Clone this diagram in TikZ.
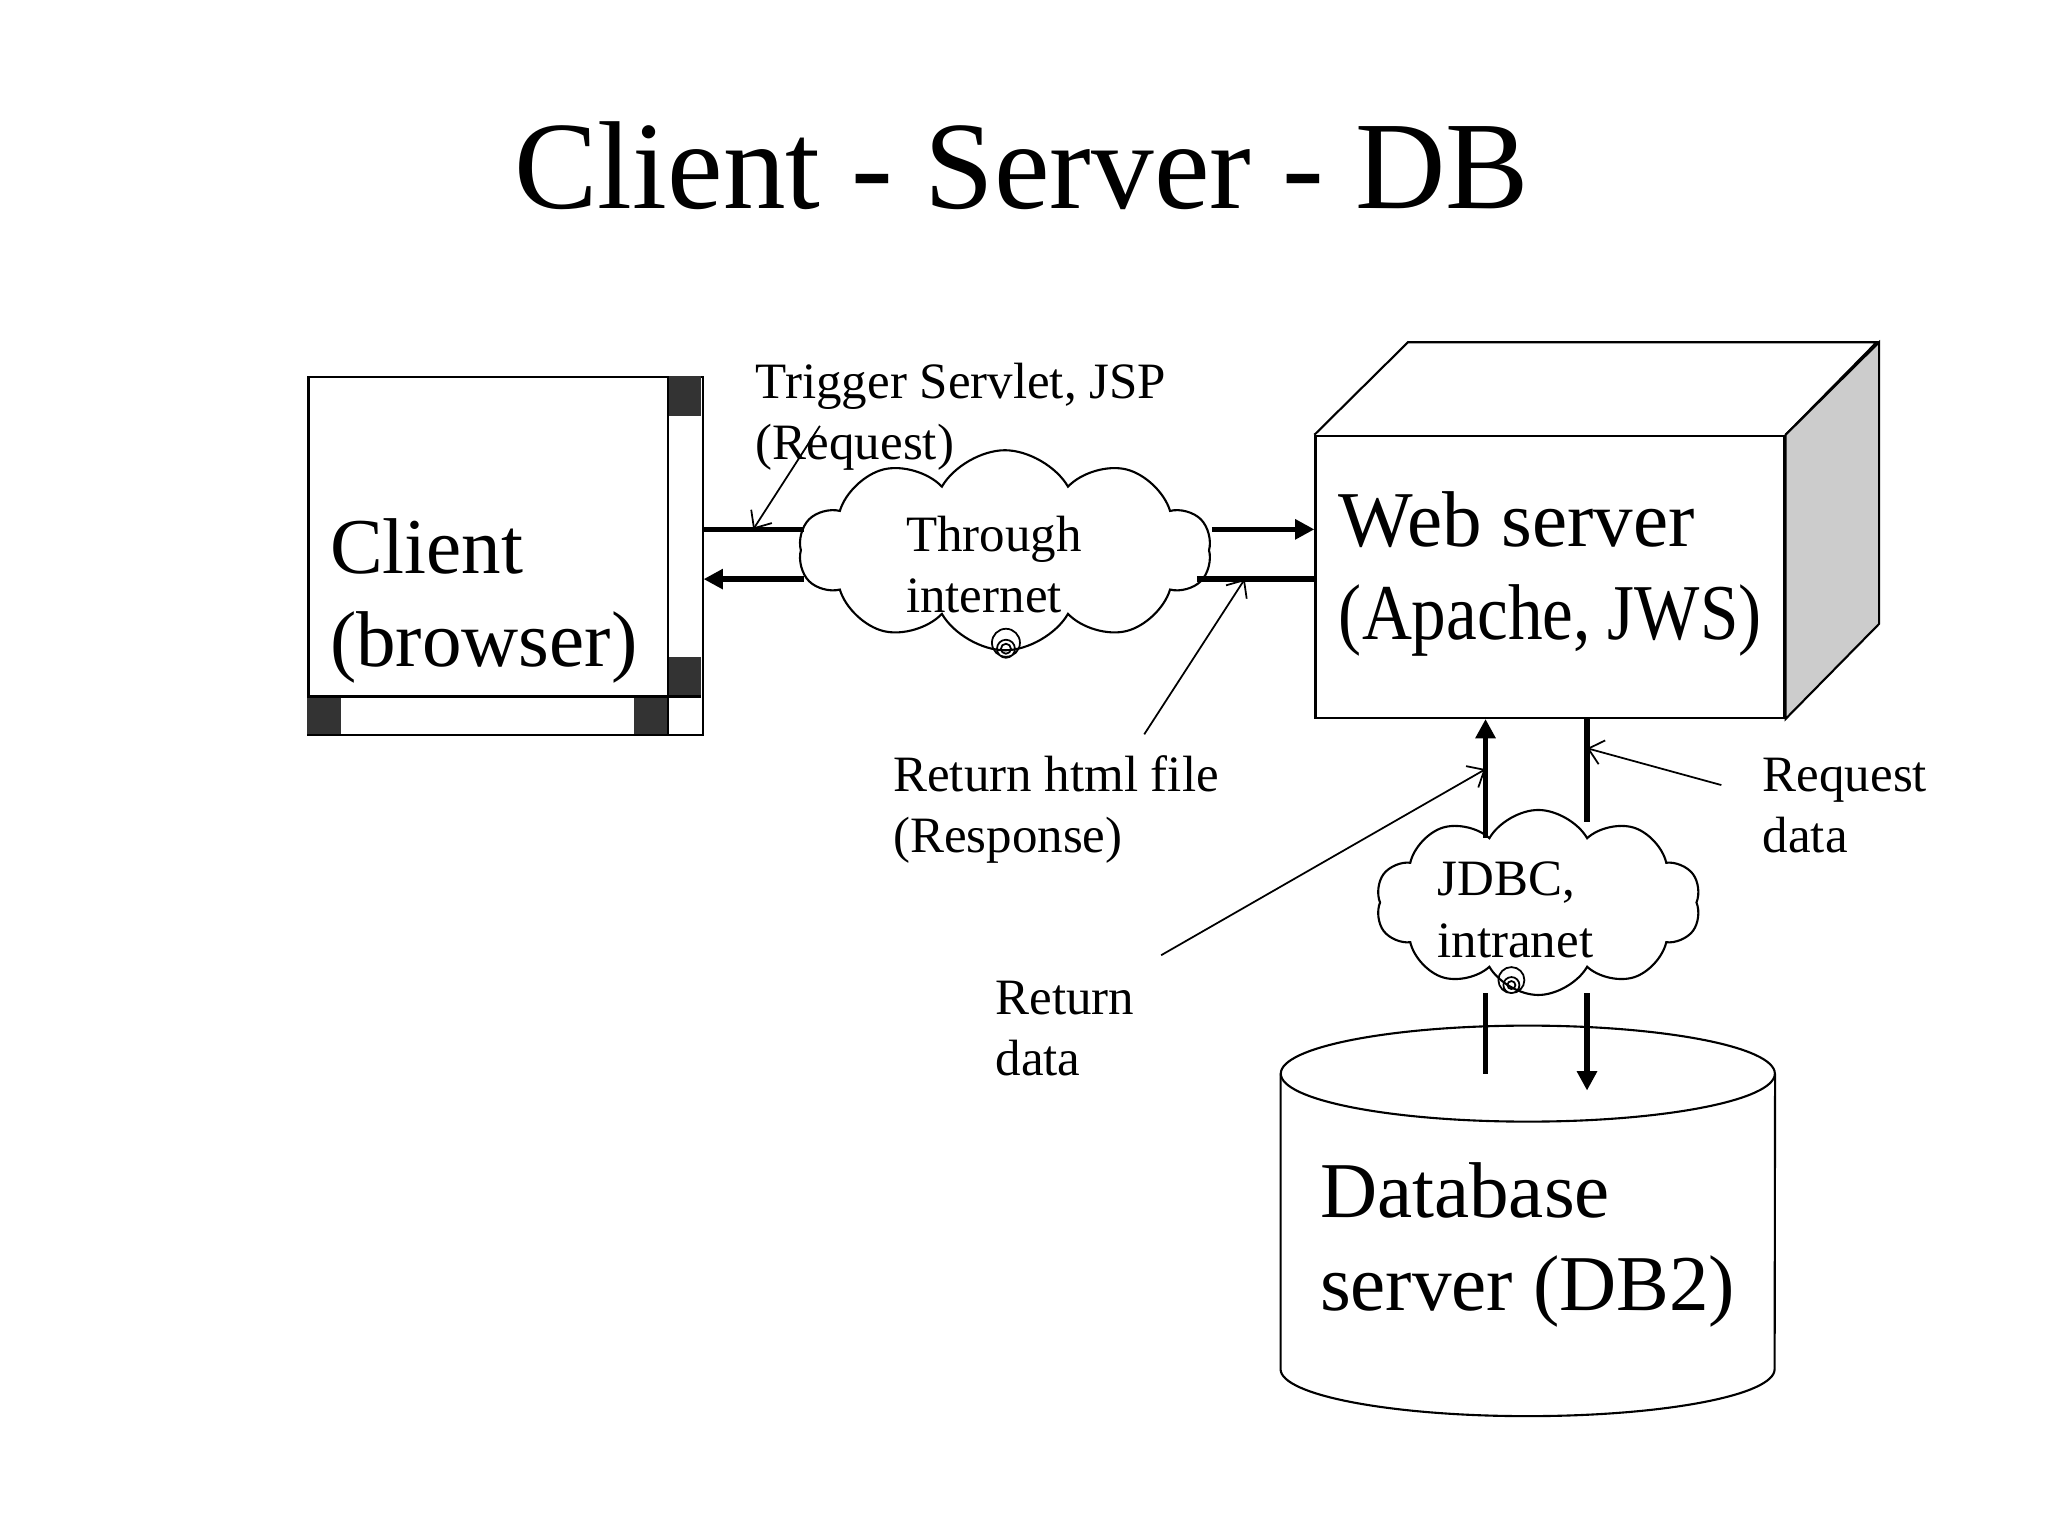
\documentclass[tikz,border=0pt]{standalone}
\usepackage{fontspec}
\setmainfont{Liberation Serif}
\usepackage{tikz}
\usetikzlibrary{shapes.symbols}
\usetikzlibrary{arrows.meta}
\begin{document}
\begin{tikzpicture}[x=0.00995cm,y=-0.00995cm,
    big/.style={font=\fontsize{22.5}{26.5}\selectfont,align=left,inner sep=0pt,anchor=base west},
    small/.style={font=\fontsize{14.5}{17.5}\selectfont,align=left,inner sep=0pt,anchor=base west},
    outline/.style={draw,line width=0.6pt},
    flowline/.style={line width=1.5pt},
    flow/.style={line width=1.5pt,-{Triangle[length=5.5pt,width=5.5pt]}},
    pointer/.style={line width=0.5pt,-{Straight Barb[length=4pt,width=7pt]}},
    puff/.style={cloud,draw,line width=0.6pt,cloud puffs=10,cloud puff arc=120,inner sep=0pt}]
          \useasboundingbox (0,0) rectangle (2058.3,1543.7);
          \node[font=\fontsize{35.6}{40}\selectfont,anchor=base] (title) at (1027,210) {Client - Server - DB};
          \node[outline,anchor=north west,minimum width=3.94cm,minimum height=3.58cm,inner sep=0pt] (client) at (309,378) {};
            \fill[black!80] (671,378) rectangle (705,418);
            \fill[black!80] (671,660) rectangle (705,700);
            \fill[black!80] (309,700) rectangle (343,738);
            \fill[black!80] (637,700) rectangle (671,738);
            \draw[line width=0.6pt] (671,378) -- (671,738);
            \draw[line width=0.6pt] (309,700) -- (705,700);
          \node[big] (clienttext) at (331,670) {Client\\(browser)};
          \node[outline,anchor=north west,minimum width=4.69cm,minimum height=2.82cm,inner sep=0pt] (web) at (1321,437) {};
            \draw[line width=0.6pt] (web.north west) -- ++(94,-93) -- ++(471,0) -- (web.north east);
            \draw[line width=0.6pt,fill=black!20] (web.north east) -- ++(94,-93) -- ++(0,283) -- (web.south east) -- cycle;
          \node[big] (webtext) at (1345,643) {Web server\\\scalebox{0.875}[1]{(Apache, JWS)}};
          \node[puff,aspect=2.2,minimum width=4.12cm,minimum height=2.0cm] (net) at (1010,553) {};
          \node[small] (nettext) at (910,616) {Through\\internet};
            \draw[line width=0.5pt] (1011,646) circle[radius=0.14cm] (1011,652) circle[radius=0.09cm] (1011,652) circle[radius=0.05cm];
          \node[puff,aspect=1.9,minimum width=3.25cm,minimum height=1.85cm] (jdbc) at (1546,907) {};
          \node[small] (jdbctext) at (1444,962) {JDBC,\\intranet};
            \draw[line width=0.5pt] (1519,985) circle[radius=0.13cm] (1519,990) circle[radius=0.08cm] (1519,990) circle[radius=0.04cm];
          \draw[line width=0.6pt,fill=white] (1287,1079) -- (1287,1376) arc[start angle=180,end angle=360,x radius=2.47cm,y radius=0.47cm] -- (1784,1079);
          \draw[line width=0.6pt] (1535.5,1079) ellipse[x radius=2.47cm,y radius=0.48cm];
          \node[big] (db) at (1326,1317) {Database\\server (DB2)};
          \coordinate (inL1) at (808,532);
          \coordinate (inL2) at (808,582);
          \coordinate (inR1) at (1218,532);
          \coordinate (inR2) at (1203,582);
            \draw[flowline] (inL1 -| client.east) -- (inL1);
            \draw[flow] (inL2) -- (inL2 -| client.east);
            \draw[flow] (inR1) -- (inR1 -| web.west);
            \draw[flowline] (inR2) -- (inR2 -| web.west);
          \coordinate (jA) at (1493,842);
          \coordinate (jB) at (1595,826);
          \coordinate (jC) at (1493,998);
          \coordinate (jD) at (1595,998);
          \coordinate (dbA) at (1493,1079);
          \coordinate (dbB) at (1595,1096);
            \draw[flow] (jA) -- (jA |- web.south);
            \draw[flowline] (web.south -| jB) -- (jB);
            \draw[flowline] (jC) -- (dbA);
            \draw[flow] (jD) -- (dbB);
          \node[small] (reqlabel) at (759,462) {Trigger Servlet, JSP\\(Request)};
          \node[small] (resplabel) at (897,857) {Return html file\\(Response)};
          \node[small] (rdatalabel) at (1771,857) {Request\\data};
          \node[small] (retlabel) at (1000,1081) {Return\\data};
          \coordinate (reqtail) at (824,428);
          \coordinate (resptail) at (1150,738);
          \coordinate (rdatatail) at (1730,789);
          \coordinate (rettail) at (1167,960);
            \draw[pointer] (reqtail) -- (757,532);
            \draw[pointer] (resptail) -- (inR2 -| 1251,0);
            \draw[pointer] (rdatatail) -- (jB |- 0,752);
            \draw[pointer] (rettail) -- (jA |- 0,773);
        \end{tikzpicture}
\end{document}
